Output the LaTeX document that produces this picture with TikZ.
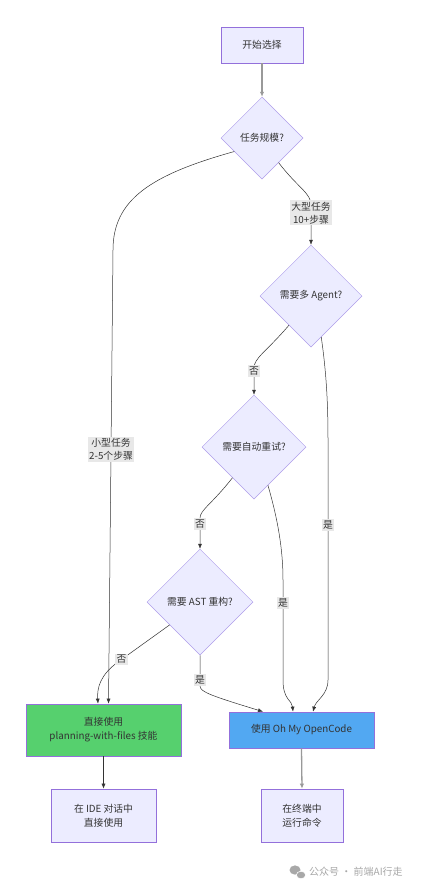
\documentclass[tikz,border=0pt]{standalone}
\usepackage{fontspec}
\setmainfont{Noto Sans CJK SC}
\usetikzlibrary{shapes.geometric,arrows.meta}
\definecolor{nodefill}{HTML}{ECECFF}
\definecolor{nodeline}{HTML}{9370DB}
\definecolor{dialine}{HTML}{AE9CEA}
\definecolor{txt}{HTML}{333333}
\definecolor{greenfill}{HTML}{56D06E}
\definecolor{bluefill}{HTML}{52A8F2}
\definecolor{lblbg}{HTML}{E8E8E8}
\definecolor{wmgray}{HTML}{A8A8A8}
\begin{document}
\begin{tikzpicture}[x=1pt,y=-1pt,
  font=\fontsize{9.8}{14}\selectfont,
  box/.style={draw=nodeline, fill=nodefill, line width=0.7pt, align=center, inner sep=0pt, text=txt},
  dia/.style={diamond, draw=dialine, fill=nodefill, line width=0.5pt, align=center, inner sep=0pt, minimum width=#1, minimum height=#1, text=txt},
  edge/.style={draw=txt, line width=0.5pt, -{Latex[length=5pt,width=4pt]}},
  gedge/.style={draw=gray!80, line width=1.3pt, -{Latex[length=5pt,width=4.5pt]}},
  lbl/.style={fill=lblbg, text=txt, align=center, inner sep=1.5pt, font=\fontsize{9.8}{13}\selectfont}]
\path[use as bounding box, fill=white] (0,0) rectangle (433,889);

\node[box, minimum width=82pt, minimum height=36pt] (start) at (262,45) {开始选择};
\node[dia=82pt] (d1) at (262,138) {任务规模?};
\node[dia=102pt] (d2) at (311,296) {需要多 Agent?};
\node[dia=104pt] (d3) at (254,447) {需要自动重试?};
\node[dia=106pt] (d4) at (200,602) {需要 AST 重构?};
\node[box, fill=greenfill, minimum width=155pt, minimum height=52pt] (green) at (103.5,730) {直接使用\\planning-with-files 技能};
\node[box, fill=bluefill, minimum width=145pt, minimum height=36pt] (blue) at (301.5,730) {使用 Oh My OpenCode};
\node[box, minimum width=105pt, minimum height=53pt] (ide) at (103.5,815.5) {在 IDE 对话中\\直接使用};
\node[box, minimum width=82pt, minimum height=53pt] (term) at (302,815.5) {在终端中\\运行命令};

\draw[gedge] (start.south) -- (d1.north);
\draw[edge] (d1.206) .. controls (150,175) and (113,200) .. (113,250) -- node[lbl,pos=0.44]{小型任务\\2-5个步骤} ([xshift=5pt]green.north);
\draw[edge] (d1.-56) .. controls (298,188) and (311,193) .. (311,205) -- node[lbl,pos=0.2]{大型任务\\10+步骤} (d2.north);
\draw[edge] (d2.233) .. controls (266,352) and (254,358) .. (254,368) -- node[lbl,pos=0.12]{否} (d3.north);
\draw[edge] (d2.-76) .. controls (326,370) and (328,400) .. (328,440) -- node[lbl,pos=0.354]{是} (328,680) .. controls (328,695) and (316,700) .. ([xshift=11.5pt]blue.north);
\draw[edge] (d3.235) .. controls (212,504) and (200,510) .. (200,518) -- node[lbl,pos=0.2]{否} (d4.north);
\draw[edge] (d3.-70) .. controls (278,520) and (283,550) .. (283,580) -- node[lbl,pos=0.23]{是} (283,680) .. controls (283,700) and (292,700) .. ([xshift=-8.5pt]blue.north);
\draw[edge] (d4.217) -- node[lbl,pos=0.93]{否} (118,662) .. controls (100,675) and (97,688) .. ([xshift=-5.5pt]green.north);
\draw[edge] (d4.south) -- node[lbl,pos=0.8]{是} (200,686) .. controls (200,692) and (212,696) .. ([xshift=-38.5pt]blue.north);
\draw[edge] (green.south) -- (ide.north);
\draw[gedge] (blue.south) -- (term.north);

\fill[wmgray] (295,870) ellipse (5.5pt and 4.6pt);
\fill[wmgray, draw=white, line width=0.6pt] (301,875) ellipse (4.6pt and 3.8pt);
\node[text=wmgray, anchor=west, inner sep=0pt, font=\fontsize{10}{12}\selectfont] (wm) at (309,872) {公众号 · 前端AI行走};
\end{tikzpicture}
\end{document}
